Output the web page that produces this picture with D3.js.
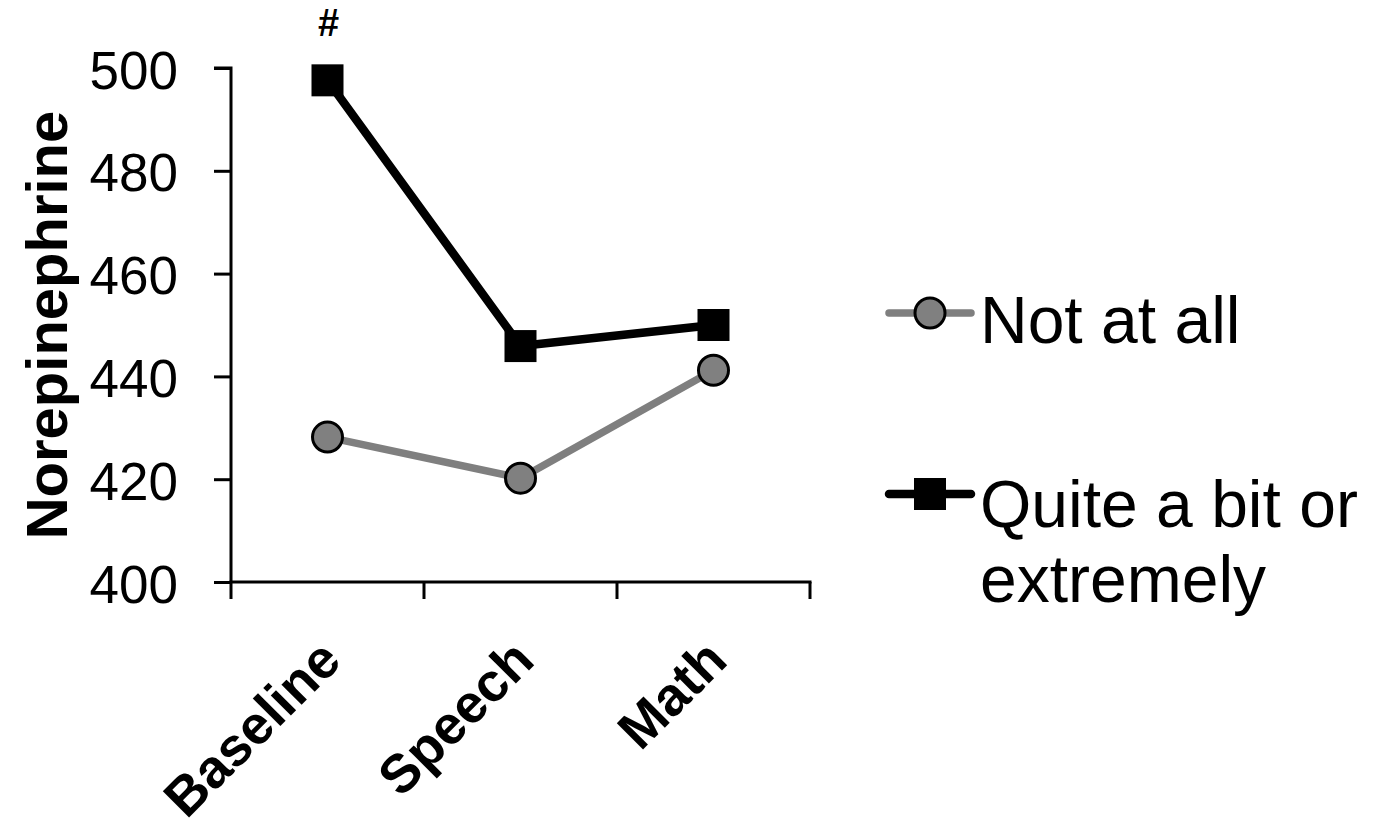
<!DOCTYPE html>
<html><head><meta charset="utf-8">
<script src="https://cdn.jsdelivr.net/npm/d3@7"></script>
<style>body{margin:0;background:#fff}svg{display:block}text{font-family:"Liberation Sans",Arial,sans-serif}</style>
</head><body><svg width="1376" height="829"></svg>
<script>
const categories = ["Baseline", "Speech", "Math"];
const notAtAll = [428.2, 420.2, 441.2];
const quiteABit = [497.6, 445.9, 450.0];
const yTicks = [400, 420, 440, 460, 480, 500];
const seriesNames = ["Not at all", "Quite a bit or extremely"];
const annotation = "#";

const svg = d3.select("svg");
const x0 = 231, x1 = 810, yTop = 68, yBot = 582;
const x = d3.scaleBand().domain(categories).range([x0, x1]).paddingInner(0).paddingOuter(0);
const y = d3.scaleLinear().domain([400, 500]).range([yBot, yTop]);

// axes
const yAxis = svg.append("g").attr("transform", `translate(${x0},0)`)
  .call(d3.axisLeft(y).tickValues(yTicks).tickSize(17).tickPadding(36));
yAxis.select(".domain").attr("stroke", "#000").attr("stroke-width", 3).attr("d", `M-17,${yTop}H0V${yBot}`);
yAxis.selectAll(".tick line").attr("stroke", "#000").attr("stroke-width", 3);
yAxis.selectAll(".tick text").attr("font-size", 53).attr("fill", "#000").attr("dy", "0.38em")
  .style("font-family", '"Liberation Sans",Arial,sans-serif');

const xAxis = svg.append("g").attr("transform", `translate(0,${yBot})`);
xAxis.append("line").attr("x1", x0 - 1.5).attr("x2", x1 + 1.5).attr("stroke", "#000").attr("stroke-width", 3);
const edges = categories.map(c => x(c)).concat([x1]);
xAxis.selectAll("line.t").data(edges).enter().append("line")
  .attr("x1", d => d).attr("x2", d => d).attr("y1", 0).attr("y2", 17)
  .attr("stroke", "#000").attr("stroke-width", 3);
xAxis.selectAll("text").data(categories).enter().append("text")
  .attr("transform", d => `translate(${x(d) + x.bandwidth() / 2 + 16},${81}) rotate(-45)`)
  .attr("text-anchor", "end").attr("font-size", 54).attr("font-weight", "bold").attr("fill", "#000")
  .text(d => d);

svg.append("text").attr("transform", `translate(67,${(yTop + yBot) / 2}) rotate(-90)`)
  .attr("text-anchor", "middle").attr("font-size", 58).attr("font-weight", "bold").text("Norepinephrine");

const cx = c => x(c) + x.bandwidth() / 2;
const line = d3.line().x((d, i) => cx(categories[i])).y(d => y(d));

svg.append("path").datum(notAtAll).attr("d", line).attr("fill", "none").attr("stroke", "#7f7f7f").attr("stroke-width", 7.5);
svg.append("path").datum(quiteABit).attr("d", line).attr("fill", "none").attr("stroke", "#000").attr("stroke-width", 8.5);

svg.selectAll("circle.m").data(notAtAll).enter().append("circle")
  .attr("cx", (d, i) => cx(categories[i])).attr("cy", d => y(d)).attr("r", 15)
  .attr("fill", "#808080").attr("stroke", "#000").attr("stroke-width", 3);
const sq = 32;
svg.selectAll("rect.m").data(quiteABit).enter().append("rect")
  .attr("x", (d, i) => cx(categories[i]) - sq / 2).attr("y", d => y(d) - sq / 2)
  .attr("width", sq).attr("height", sq).attr("fill", "#000");

svg.append("text").attr("x", cx(categories[0]) + 1).attr("y", 36).attr("text-anchor", "middle")
  .attr("font-size", 38).attr("font-weight", "bold").text(annotation);

// legend
const lg = svg.append("g");
lg.append("line").attr("x1", 889).attr("x2", 971).attr("y1", 313).attr("y2", 313).attr("stroke", "#7f7f7f").attr("stroke-width", 7.5).attr("stroke-linecap", "round");
lg.append("circle").attr("cx", 930).attr("cy", 313).attr("r", 15).attr("fill", "#808080").attr("stroke", "#000").attr("stroke-width", 3);
lg.append("text").attr("x", 980).attr("y", 343).attr("font-size", 66).text(seriesNames[0]);
lg.append("line").attr("x1", 889).attr("x2", 971).attr("y1", 494).attr("y2", 494).attr("stroke", "#000").attr("stroke-width", 8.5).attr("stroke-linecap", "round");
lg.append("rect").attr("x", 914).attr("y", 478).attr("width", 32).attr("height", 32).attr("fill", "#000");
lg.append("text").attr("x", 980).attr("y", 527).attr("font-size", 66).text("Quite a bit or");
lg.append("text").attr("x", 980).attr("y", 602).attr("font-size", 66).text("extremely");
</script></body></html>
